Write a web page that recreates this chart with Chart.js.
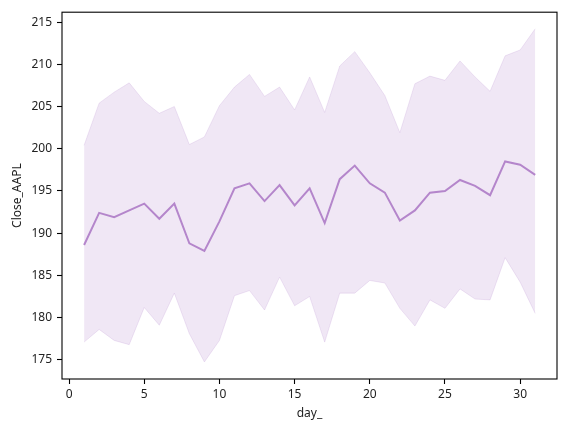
<!DOCTYPE html>
<html>
<head>
<meta charset="utf-8">
<script src="https://cdn.jsdelivr.net/npm/chart.js@4"></script>
<style>
    body { margin: 0; background: #fff; }
    #wrap { width: 567px; height: 430px; }
</style>
</head>
<body>
<div id="wrap"><canvas id="chart" width="567" height="430"></canvas></div>
<script>
const days = [1,2,3,4,5,6,7,8,9,10,11,12,13,14,15,16,17,18,19,20,21,22,23,24,25,26,27,28,29,30,31];
const closeMean = [188.6,192.4,191.9,192.7,193.5,191.7,193.5,188.8,187.9,191.4,195.3,195.9,193.8,195.7,193.3,195.3,191.2,196.4,198.0,195.9,194.8,191.5,192.7,194.8,195.0,196.3,195.6,194.5,198.5,198.1,196.9];
const ciLower = [177.1,178.6,177.3,176.8,181.2,179.1,182.9,178.1,174.75,177.3,182.6,183.2,180.9,184.8,181.4,182.5,177.1,182.9,182.9,184.4,184.1,181.1,179.0,182.1,181.1,183.4,182.2,182.1,187.1,184.2,180.5];
const ciUpper = [200.4,205.4,206.7,207.8,205.6,204.2,205.0,200.5,201.4,205.1,207.3,208.8,206.2,207.3,204.6,208.5,204.3,209.8,211.5,209.0,206.3,201.9,207.7,208.6,208.1,210.4,208.5,206.8,211.0,211.7,214.2];
const xTicks = [0,5,10,15,20,25,30];
const yTicks = [175,180,185,190,195,200,205,210,215];

const lineColor = 'rgb(181,134,203)';
const bandColor = 'rgba(181,134,203,0.2)';
const tickFont = { family: 'Noto Sans', size: 12 };

const toPoints = (vals) => vals.map((v, i) => ({ x: days[i], y: v }));

// full box round the plot area, like matplotlib spines
const frame = {
    id: 'frame',
    afterDraw(chart) {
        const { ctx, chartArea: a } = chart;
        ctx.save();
        ctx.strokeStyle = '#000';
        ctx.lineWidth = 1.1;
        ctx.strokeRect(a.left, a.top, a.right - a.left, a.bottom - a.top);
        ctx.restore();
    }
};

new Chart(document.getElementById('chart').getContext('2d'), {
    type: 'line',
    data: {
        datasets: [
            {
                data: toPoints(ciLower),
                borderColor: bandColor,
                borderWidth: 1,
                pointRadius: 0,
                fill: false
            },
            {
                data: toPoints(ciUpper),
                borderColor: bandColor,
                borderWidth: 1,
                backgroundColor: bandColor,
                pointRadius: 0,
                fill: '-1'
            },
            {
                data: toPoints(closeMean),
                borderColor: lineColor,
                borderWidth: 2,
                pointRadius: 0,
                fill: false
            }
        ]
    },
    options: {
        responsive: false,
        animation: false,
        layout: { padding: { top: 9, right: 10, left: 0, bottom: 0 } },
        plugins: { legend: { display: false }, tooltip: { enabled: false } },
        elements: { line: { tension: 0 } },
        scales: {
            x: {
                type: 'linear',
                min: -0.47,
                max: 32.45,
                afterBuildTicks: (axis) => { axis.ticks = xTicks.map(v => ({ value: v })); },
                afterFit: (axis) => { axis.height = 51; },
                border: { display: false },
                grid: { drawOnChartArea: false, drawTicks: true, tickLength: 5, color: '#000', tickWidth: 1.1 },
                ticks: { color: '#222', font: tickFont, padding: 3, maxRotation: 0 },
                title: { display: true, text: 'day_', color: '#222', font: tickFont, padding: { top: 0, bottom: 9 } }
            },
            y: {
                min: 172.73,
                max: 216.17,
                afterBuildTicks: (axis) => { axis.ticks = yTicks.map(v => ({ value: v })); },
                afterFit: (axis) => { axis.width = 62; },
                border: { display: false },
                grid: { drawOnChartArea: false, drawTicks: true, tickLength: 5, color: '#000', tickWidth: 1.1 },
                ticks: { color: '#222', font: tickFont, padding: 5 },
                title: { display: true, text: 'Close_AAPL', color: '#222', font: tickFont, padding: { top: 10, bottom: 0 } }
            }
        }
    },
    plugins: [frame]
});
</script>
</body>
</html>
